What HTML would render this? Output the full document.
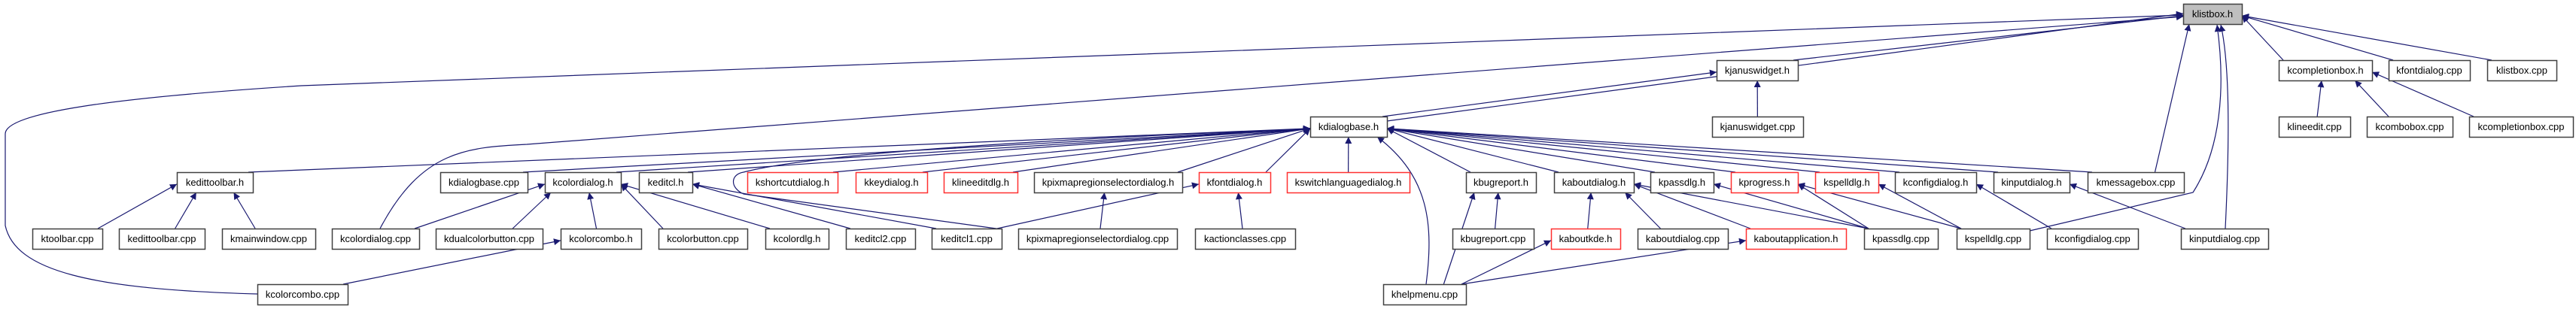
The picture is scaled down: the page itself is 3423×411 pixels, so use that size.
<!DOCTYPE html>
<html><head><meta charset="utf-8"><style>
html,body{margin:0;padding:0;background:#fff;width:3423px;height:411px;overflow:hidden}
svg text{font-family:"Liberation Sans",sans-serif;font-size:13px}
</style></head><body>
<svg id="g" xmlns="http://www.w3.org/2000/svg" width="3423" height="411" viewBox="0 0 3423 411">
<defs><marker id="a" viewBox="0 0 10 10" refX="10" refY="5" markerWidth="11" markerHeight="9" markerUnits="userSpaceOnUse" orient="auto"><path d="M0,0 L10,5 L0,10 z" fill="#191970"/></marker></defs>
<g id="e" fill="none" stroke="#191970" stroke-width="1.2"></g>
<g id="n"></g>
</svg>
<script>
var R=[5,80,155,229,304,378],H=27;
var N={
"klistbox.h":[2901,2979,0,'g'],
"kjanuswidget.h":[2281,2389,1],"kcompletionbox.h":[3028,3152,1],"kfontdialog.cpp":[3174,3282,1],"klistbox.cpp":[3305,3397,1],
"kdialogbase.h":[1741,1843,2],"kjanuswidget.cpp":[2275,2396,2],"klineedit.cpp":[3028,3123,2],"kcombobox.cpp":[3145,3259,2],"kcompletionbox.cpp":[3281,3419,2],
"kedittoolbar.h":[235,336,3],"kdialogbase.cpp":[585,701,3],"kcolordialog.h":[724,825,3],"keditcl.h":[849,920,3],
"kshortcutdialog.h":[993,1113,3,'r'],"kkeydialog.h":[1137,1232,3,'r'],"klineeditdlg.h":[1254,1352,3,'r'],
"kpixmapregionselectordialog.h":[1374,1571,3],"kfontdialog.h":[1593,1688,3,'r'],"kswitchlanguagedialog.h":[1710,1873,3,'r'],
"kbugreport.h":[1948,2041,3],"kaboutdialog.h":[2065,2171,3],"kpassdlg.h":[2193,2277,3],"kprogress.h":[2300,2389,3,'r'],
"kspelldlg.h":[2412,2496,3,'r'],"kconfigdialog.h":[2518,2626,3],"kinputdialog.h":[2649,2750,3],"kmessagebox.cpp":[2774,2902,3],
"ktoolbar.cpp":[43,136,4],"kedittoolbar.cpp":[158,272,4],"kmainwindow.cpp":[295,419,4],"kcolordialog.cpp":[441,557,4],
"kdualcolorbutton.cpp":[579,721,4],"kcolorcombo.h":[745,852,4],"kcolorbutton.cpp":[875,993,4],"kcolordlg.h":[1017,1101,4],
"keditcl2.cpp":[1124,1216,4],"keditcl1.cpp":[1238,1331,4],"kpixmapregionselectordialog.cpp":[1353,1564,4],
"kactionclasses.cpp":[1588,1721,4],"kbugreport.cpp":[1930,2038,4],"kaboutkde.h":[2061,2153,4,'r'],"kaboutdialog.cpp":[2176,2296,4],
"kaboutapplication.h":[2320,2453,4,'r'],"kpassdlg.cpp":[2477,2575,4],"kspelldlg.cpp":[2600,2697,4],"kconfigdialog.cpp":[2720,2841,4],
"kinputdialog.cpp":[2898,3014,4],
"kcolorcombo.cpp":[342,462,5],"khelpmenu.cpp":[1838,1948,5]};
var E=[
["kjanuswidget.h","klistbox.h"],["kcompletionbox.h","klistbox.h"],["kfontdialog.cpp","klistbox.h"],["klistbox.cpp","klistbox.h"],
["kmessagebox.cpp","klistbox.h"],
["klineedit.cpp","kcompletionbox.h"],["kcombobox.cpp","kcompletionbox.h"],["kcompletionbox.cpp","kcompletionbox.h"],
["kjanuswidget.cpp","kjanuswidget.h"],["kdialogbase.h","kjanuswidget.h"],
["kedittoolbar.h","kdialogbase.h"],["kdialogbase.cpp","kdialogbase.h"],["kcolordialog.h","kdialogbase.h"],["keditcl.h","kdialogbase.h"],
["kshortcutdialog.h","kdialogbase.h"],["kkeydialog.h","kdialogbase.h"],["klineeditdlg.h","kdialogbase.h"],["kpixmapregionselectordialog.h","kdialogbase.h"],
["kfontdialog.h","kdialogbase.h"],["kswitchlanguagedialog.h","kdialogbase.h"],["kbugreport.h","kdialogbase.h"],["kaboutdialog.h","kdialogbase.h"],
["kpassdlg.h","kdialogbase.h"],["kprogress.h","kdialogbase.h"],["kspelldlg.h","kdialogbase.h"],["kconfigdialog.h","kdialogbase.h"],
["kinputdialog.h","kdialogbase.h"],["kmessagebox.cpp","kdialogbase.h"],
["ktoolbar.cpp","kedittoolbar.h"],["kedittoolbar.cpp","kedittoolbar.h"],["kmainwindow.cpp","kedittoolbar.h"],
["kcolordialog.cpp","kcolordialog.h"],["kdualcolorbutton.cpp","kcolordialog.h"],["kcolorcombo.h","kcolordialog.h"],["kcolorbutton.cpp","kcolordialog.h"],["kcolordlg.h","kcolordialog.h"],
["kcolorcombo.cpp","kcolorcombo.h"],["keditcl2.cpp","keditcl.h"],["keditcl1.cpp","keditcl.h"],
["kpixmapregionselectordialog.cpp","kpixmapregionselectordialog.h"],["kactionclasses.cpp","kfontdialog.h"],["keditcl1.cpp","kfontdialog.h"],
["kbugreport.cpp","kbugreport.h"],["kaboutkde.h","kaboutdialog.h"],["kaboutdialog.cpp","kaboutdialog.h"],["kaboutapplication.h","kaboutdialog.h"],["kpassdlg.cpp","kaboutdialog.h"],
["kpassdlg.cpp","kpassdlg.h"],["kpassdlg.cpp","kprogress.h"],["kspelldlg.cpp","kprogress.h"],["kspelldlg.cpp","kspelldlg.h"],
["kconfigdialog.cpp","kconfigdialog.h"],["kinputdialog.cpp","kinputdialog.h"],
["khelpmenu.cpp","kaboutapplication.h"],["khelpmenu.cpp","kaboutkde.h"],["khelpmenu.cpp","kbugreport.h"]];
var P=[
"M342,391 C120,385 20,360 7,300 L7,178 C7,150 150,130 400,114 L2901,20",
"M505,304 C560,200 620,196 700,192 L2901,22",
"M1843,161 L2901,18",
"M2697,307 L2914,256 C2950,200 2958,120 2946,33",
"M2957,304 C2962,200 2964,90 2951,33",
"M1331,305 L988,258 C970,250 970,232 988,229 C1100,200 1500,180 1741,172",
"M1895,378 C1905,300 1900,235 1830,182"];
var ns="http://www.w3.org/2000/svg",eg=document.getElementById('e'),ng=document.getElementById('n');
function path(d){var p=document.createElementNS(ns,'path');p.setAttribute('d',d);p.setAttribute('marker-end','url(#a)');eg.appendChild(p);}
P.forEach(function(d){path(d);});
E.forEach(function(e){var s=N[e[0]],t=N[e[1]];
 var sx=(s[0]+s[1])/2,sy=R[s[2]],tx=(t[0]+t[1])/2,ty=R[t[2]]+H;
 var dy=sy-ty,dx=sx-tx;
 var x1,y1,x2,y2;
 if(Math.abs(dx)>3*dy){
   y2=R[t[2]]+H/2+Math.max(-8,Math.min(8,dy*0.05));
   x2=dx<0?t[0]:t[1];
   x1=dx<0?s[1]-6:s[0]+6;y1=sy;
   if(dx<0&&x1>x2-4)x1=sx;
 }else{
   x2=tx+Math.max(-(t[1]-t[0])/2+8,Math.min((t[1]-t[0])/2-8,dx*0.35));y2=ty;
   x1=sx+Math.max(-(s[1]-s[0])/2+8,Math.min((s[1]-s[0])/2-8,-dx*0.25));y1=sy;
 }
 path("M"+x1+","+y1+" L"+x2+","+y2);});
for(var k in N){var v=N[k],y=R[v[2]];
 var r=document.createElementNS(ns,'rect');r.setAttribute('x',v[0]+0.5);r.setAttribute('y',y+0.5);r.setAttribute('width',v[1]-v[0]);r.setAttribute('height',H);
 r.setAttribute('fill',v[3]=='g'?'#bfbfbf':'#fff');r.setAttribute('stroke',v[3]=='r'?'#ff3030':'#404040');r.setAttribute('stroke-width','1.5');ng.appendChild(r);
 var t=document.createElementNS(ns,'text');t.setAttribute('x',(v[0]+v[1])/2);t.setAttribute('y',y+18);t.setAttribute('text-anchor','middle');t.textContent=k;ng.appendChild(t);}
</script>
</body></html>
